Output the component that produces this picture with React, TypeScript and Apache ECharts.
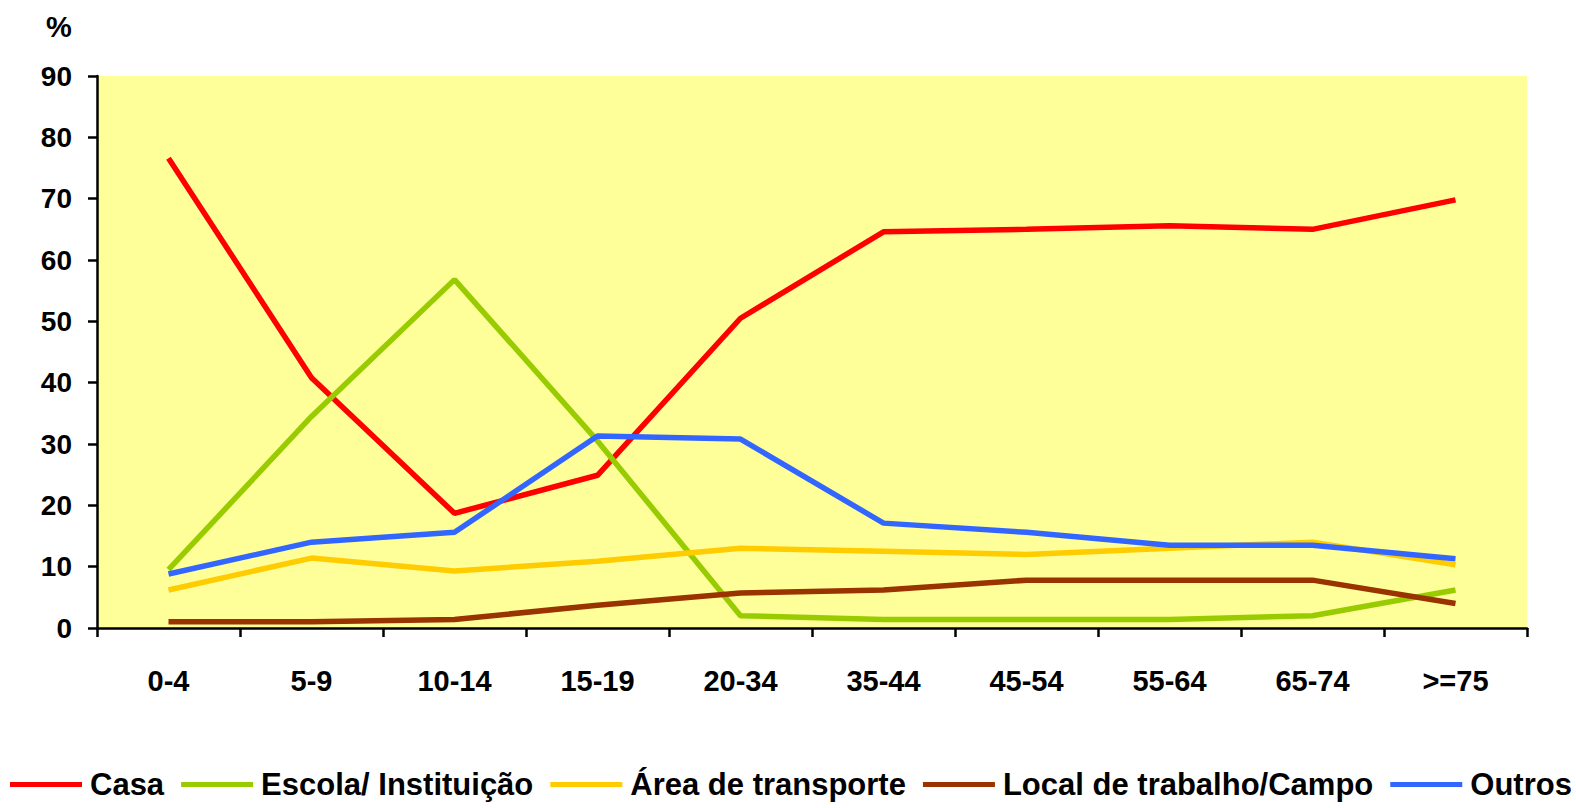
import React, { useEffect, useRef } from "react";
import * as echarts from "echarts";

const categories = ["0-4", "5-9", "10-14", "15-19", "20-34", "35-44", "45-54", "55-64", "65-74", ">=75"];
const casa = [76.6, 40.8, 18.7, 24.9, 50.5, 64.6, 65.0, 65.6, 65.0, 69.8];
const escola = [9.5, 34.5, 56.8, 30.5, 2.0, 1.4, 1.4, 1.4, 2.0, 6.2];
const areaTransporte = [6.2, 11.4, 9.3, 10.9, 13.0, 12.5, 12.0, 13.0, 14.0, 10.3];
const localTrabalho = [1.0, 1.0, 1.4, 3.7, 5.7, 6.2, 7.8, 7.8, 7.8, 4.0];
const outros = [8.8, 14.0, 15.6, 31.3, 30.8, 17.1, 15.6, 13.5, 13.5, 11.3];
const seriesNames = ["Casa", "Escola/ Instituição", "Área de transporte", "Local de trabalho/Campo", "Outros"];
const seriesColors = ["#FF0000", "#99CC00", "#FFCC00", "#993300", "#3366FF"];
const yTicks = { min: 0, max: 90, interval: 10 };

const FONT = '"Liberation Sans", Arial, sans-serif';

export default function App() {
  const ref = useRef<HTMLDivElement>(null);
  useEffect(() => {
    document.body.style.margin = "0";
    const chart = echarts.init(ref.current!, undefined, { renderer: "svg" });
    const data = [casa, escola, areaTransporte, localTrabalho, outros];
    chart.setOption({
      animation: false,
      textStyle: { fontFamily: FONT },
      title: {
        text: "%",
        left: 46,
        top: 12,
        padding: 0,
        textStyle: { fontFamily: FONT, fontWeight: "bold", fontSize: 29, color: "#000" },
      },
      grid: {
        left: 97,
        right: 49,
        top: 76,
        bottom: 180,
        show: true,
        backgroundColor: "#FFFF99",
        borderWidth: 0,
      },
      legend: {
        left: 10,
        top: 769,
        padding: 0,
        itemWidth: 72,
        itemHeight: 5,
        itemGap: 17,
        icon: "rect",
        textStyle: { fontFamily: FONT, fontWeight: "bold", fontSize: 31, color: "#000", padding: [0, 0, 0, 3] },
        data: seriesNames,
      },
      xAxis: {
        type: "category",
        data: categories,
        boundaryGap: true,
        axisLine: { lineStyle: { color: "#000", width: 2.5 } },
        axisTick: { show: true, length: 9, lineStyle: { color: "#000", width: 2.5 } },
        axisLabel: { color: "#000", fontFamily: FONT, fontWeight: "bold", fontSize: 29, margin: 38 },
        splitLine: { show: false },
      },
      yAxis: {
        type: "value",
        min: yTicks.min,
        max: yTicks.max,
        interval: yTicks.interval,
        axisLine: { show: true, lineStyle: { color: "#000", width: 2.5 } },
        axisTick: { show: true, length: 9, lineStyle: { color: "#000", width: 2.5 } },
        axisLabel: { color: "#000", fontFamily: FONT, fontWeight: "bold", fontSize: 28, margin: 25 },
        splitLine: { show: false },
      },
      series: data.map((d, i) => ({
        name: seriesNames[i],
        type: "line",
        data: d,
        symbol: "none",
        color: seriesColors[i],
        lineStyle: { color: seriesColors[i], width: 5.5 },
      })),
    });
    return () => chart.dispose();
  }, []);
  return <div ref={ref} style={{ width: 1576, height: 808 }} />;
}
